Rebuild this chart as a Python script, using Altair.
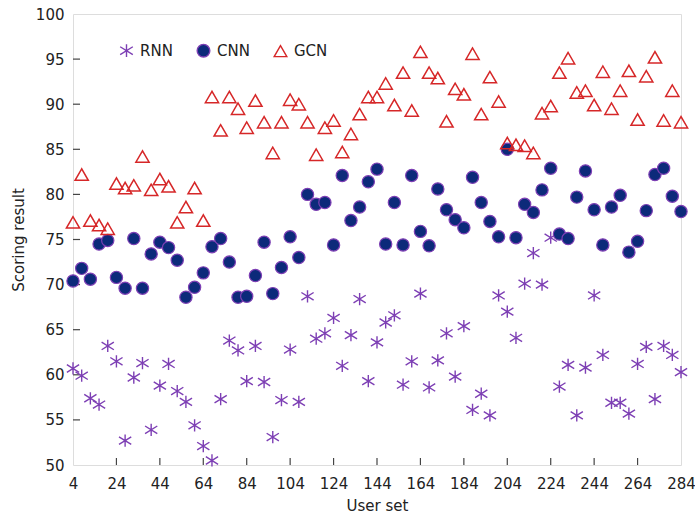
import altair as alt
import pandas as pd

user_set = [4, 8, 12, 16, 20, 24, 28, 32, 36, 40, 44, 48, 52, 56, 60, 64, 68, 72,
            76, 80, 84, 88, 92, 96, 100, 104, 108, 112, 116, 120, 124, 128, 132,
            136, 140, 144, 148, 152, 156, 160, 164, 168, 172, 176, 180, 184, 188,
            192, 196, 200, 204, 208, 212, 216, 220, 224, 228, 232, 236, 240, 244,
            248, 252, 256, 260, 264, 268, 272, 276, 280, 284]

rnn = [60.7, 59.9, 57.4, 56.7, 63.2, 61.5, 52.7, 59.7, 61.3, 53.9, 58.8, 61.2,
       58.2, 57.0, 54.4, 52.1, 50.5, 57.3, 63.8, 62.7, 59.3, 63.2, 59.2, 53.1,
       57.2, 62.8, 57.0, 68.7, 64.0, 64.6, 66.3, 61.0, 64.4, 68.4, 59.3, 63.6,
       65.8, 66.6, 58.9, 61.5, 69.0, 58.6, 61.6, 64.6, 59.8, 65.4, 56.1, 57.9,
       55.5, 68.8, 67.0, 64.1, 70.1, 73.5, 70.0, 75.2, 58.7, 61.1, 55.5, 60.8,
       68.8, 62.2, 56.9, 56.9, 55.7, 61.2, 63.1, 57.3, 63.2, 62.2, 60.3]

cnn = [70.4, 71.8, 70.6, 74.5, 74.9, 70.8, 69.6, 75.1, 69.6, 73.4, 74.7, 74.1,
       72.7, 68.6, 69.7, 71.3, 74.2, 75.1, 72.5, 68.6, 68.7, 71.0, 74.7, 69.0,
       71.9, 75.3, 73.0, 80.0, 78.9, 79.1, 74.4, 82.1, 77.1, 78.6, 81.4, 82.8,
       74.5, 79.1, 74.4, 82.1, 75.9, 74.3, 80.6, 78.3, 77.2, 76.3, 81.9, 79.1,
       77.0, 75.3, 85.0, 75.2, 78.9, 78.0, 80.5, 82.9, 75.6, 75.1, 79.7, 82.6,
       78.3, 74.4, 78.6, 79.9, 73.6, 74.8, 78.2, 82.2, 82.9, 79.8, 78.1]

gcn = [76.9, 82.2, 77.1, 76.6, 76.2, 81.2, 80.7, 81.0, 84.2, 80.5, 81.7, 80.9,
       76.9, 78.6, 80.7, 77.1, 90.8, 87.1, 90.8, 89.5, 87.4, 90.4, 88.0, 84.6,
       88.0, 90.5, 90.0, 88.0, 84.4, 87.4, 88.2, 84.7, 86.7, 88.9, 90.8, 90.8,
       92.3, 89.9, 93.5, 89.3, 95.8, 93.5, 92.9, 88.1, 91.7, 91.1, 95.6, 88.9,
       93.0, 90.3, 85.7, 85.5, 85.4, 84.6, 89.0, 89.8, 93.5, 95.1, 91.3, 91.5,
       89.9, 93.6, 89.5, 91.5, 93.7, 88.3, 93.1, 95.2, 88.2, 91.5, 88.0]

models = ["RNN", "CNN", "GCN"]
x_ticks = [4, 24, 44, 64, 84, 104, 124, 144, 164, 184, 204, 224, 244, 264, 284]
y_ticks = [50, 55, 60, 65, 70, 75, 80, 85, 90, 95, 100]

rows = []
for name, vals in zip(models, [rnn, cnn, gcn]):
    for xv, yv in zip(user_set, vals):
        rows.append({"x": xv, "y": yv, "model": name})
df = pd.DataFrame(rows)

FONT = "DejaVu Sans"
purple = "#7d3fb4"
navy = "#0c2a7a"
red = "#d62728"
asterisk = "M0,-1L0,1M-1,-0.62L1,0.62M-1,0.62L1,-0.62"


def make_legend():
    return alt.Legend(title=None, orient="none", legendX=46, legendY=29,
                      direction="horizontal", labelFont=FONT, labelFontSize=15,
                      labelColor="#222", symbolSize=160, symbolStrokeWidth=1.4,
                      labelOffset=6, columnPadding=21)


xscale = alt.Scale(domain=[4, 284], nice=False, zero=False)
yscale = alt.Scale(domain=[50, 100], nice=False, zero=False)

base = alt.Chart(df).encode(
    x=alt.X("x:Q", scale=xscale,
            axis=alt.Axis(values=x_ticks, title="User set", ticks=False, domain=False,
                          grid=False, labelFont=FONT, labelFontSize=15,
                          labelFlush=False, labelOverlap=False,
                          labelColor="#222", labelPadding=11, titleFont=FONT,
                          titleFontSize=15, titleFontWeight="normal", titleColor="#222",
                          titlePadding=7)),
    y=alt.Y("y:Q", scale=yscale,
            axis=alt.Axis(values=y_ticks, title="Scoring result", ticks=False,
                          domain=False, grid=False, labelFont=FONT, labelFontSize=15,
                          labelFlush=False, labelOverlap=False,
                          labelColor="#222", labelPadding=9, titleFont=FONT,
                          titleFontSize=15, titleFontWeight="normal", titleColor="#222",
                          titlePadding=9)),
    shape=alt.Shape("model:N", scale=alt.Scale(domain=models,
                                               range=[asterisk, "circle", "triangle-up"]),
                    legend=make_legend()),
    stroke=alt.Stroke("model:N", scale=alt.Scale(domain=models,
                                                 range=[purple, purple, red]),
                      legend=make_legend()),
    fill=alt.Fill("model:N", scale=alt.Scale(domain=models,
                                             range=["transparent", navy, "transparent"]),
                  legend=make_legend()),
)

l_rnn = base.transform_filter(alt.datum.model == "RNN").mark_point(
    size=150, strokeWidth=1.4, opacity=1, clip=False)
l_cnn = base.transform_filter(alt.datum.model == "CNN").mark_point(
    size=150, strokeWidth=1.2, opacity=1, filled=False, clip=False)
l_gcn = base.transform_filter(alt.datum.model == "GCN").mark_point(
    size=175, strokeWidth=1.5, opacity=1, clip=False)

ytick_df = pd.DataFrame({"v": y_ticks[1:-1]})
xtick_df = pd.DataFrame({"v": x_ticks[1:-1]})

yt = alt.Chart(ytick_df).mark_rule(color="#444", strokeWidth=1.2).encode(
    y=alt.Y("v:Q", scale=yscale), x=alt.value(0), x2=alt.value(7))
xt = alt.Chart(xtick_df).mark_rule(color="#444", strokeWidth=1.2).encode(
    x=alt.X("v:Q", scale=xscale), y=alt.value(451), y2=alt.value(444))

chart = alt.layer(yt, xt, l_rnn, l_cnn, l_gcn).properties(
    width=608, height=451,
    autosize=alt.AutoSizeParams(type="none"),
    padding={"left": 73, "top": 14, "right": 14, "bottom": 54},
).configure_view(stroke="#444", strokeWidth=1.5).configure(background="white")

chart.save("out.html", embed_options={"renderer": "svg", "actions": False})
